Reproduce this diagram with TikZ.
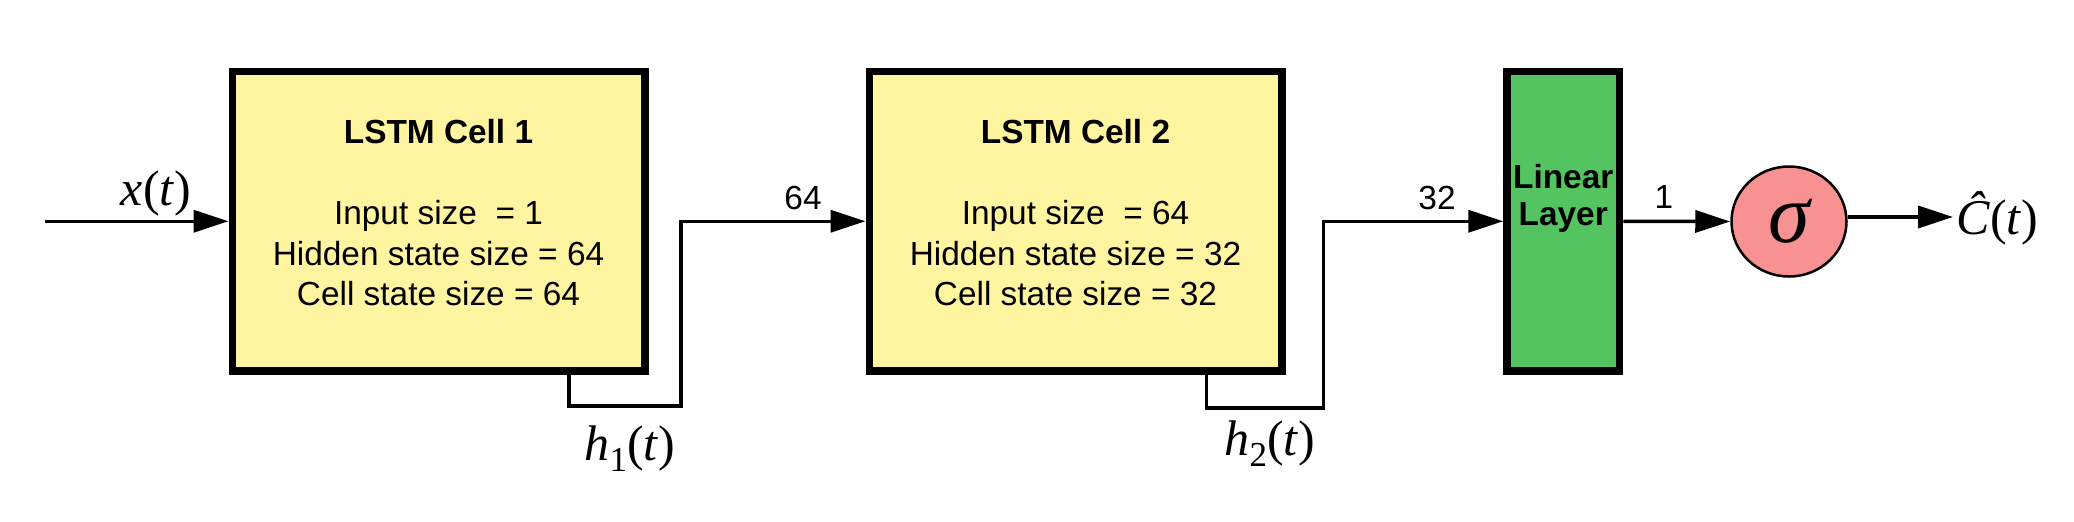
\documentclass[tikz,border=0pt]{standalone}
\usepackage{fontspec}
\setmainfont{Liberation Sans}
\newfontfamily\tms{Liberation Serif}
\usetikzlibrary{arrows.meta,shapes.geometric}
\definecolor{cellyellow}{RGB}{255,245,160}
\definecolor{lingreen}{RGB}{84,196,96}
\definecolor{sigpink}{RGB}{248,146,146}
\begin{document}
\begin{tikzpicture}[x=0.5pt,y=-0.5pt,
  cellbox/.style={draw=black, line width=3.75pt, fill=cellyellow, minimum width=206.25pt, minimum height=149.75pt, inner sep=0pt},
  linbox/.style={cellbox, fill=lingreen, minimum width=56.25pt},
  sigcirc/.style={ellipse, draw=black, line width=1.25pt, fill=sigpink, minimum width=57.5pt, minimum height=55pt, inner sep=0pt},
  conn/.style={line width=1.75pt},
  arr/.style={conn, -{Triangle[length=17.5pt,width=11pt]}},
  txt/.style={anchor=base, inner sep=0pt, font=\fontsize{16.7}{20}\selectfont},
  ttl/.style={txt, font=\fontsize{16.7}{20}\selectfont\bfseries},
  mth/.style={anchor=base, inner sep=0pt, font=\tms\fontsize{25}{28}\selectfont},
]
\useasboundingbox (0,0) rectangle (2074,521);

% boxes
\node[cellbox] (c1) at (438.5,221.25) {};
\node[cellbox] (c2) at (1075.5,221.25) {};
\node[linbox] (lin) at (1563.25,221.25) {};
\node[sigcirc, font=\tms\itshape\fontsize{42}{42}\selectfont] (sig) at (1789,221.5) {σ};

% cell texts
\node[ttl] (c1t) at (438.5,143) {LSTM Cell 1};
\node[txt] (c1a) at (438.5,224) {Input size\ \ = 1};
\node[txt] (c1b) at (438.5,265) {Hidden state size = 64};
\node[txt] (c1c) at (438.5,305) {Cell state size = 64};
\node[ttl] (c2t) at (1075.5,143) {LSTM Cell 2};
\node[txt] (c2a) at (1075.5,224) {Input size\ \ = 64};
\node[txt] (c2b) at (1075.5,265) {Hidden state size = 32};
\node[txt] (c2c) at (1075.5,305) {Cell state size = 32};
\node[ttl] (lt1) at (1563.25,188) {Linear};
\node[ttl] (lt2) at (1563.25,225) {Layer};

% connectors
\coordinate (in) at (45,221.25);
\draw[arr] (in) -- (c1.west);
\coordinate (h1a) at (569,406);
\coordinate (h1b) at (681,406);
\draw[arr] (c1.south -| h1a) -- (h1a) -- (h1b) -- (h1b |- c2.west) -- (c2.west);
\coordinate (h2a) at (1206.5,408);
\coordinate (h2b) at (1323.5,408);
\draw[arr] (c2.south -| h2a) -- (h2a) -- (h2b) -- (h2b |- lin.west) -- (lin.west);
\draw[arr] (lin.east) -- (sig.west);
\coordinate (out) at (1953,217);
\draw[arr] (sig.east |- out) -- (out);

% labels
\node[txt] (l64) at (803,209) {64};
\node[txt] (l32) at (1437,209) {32};
\node[txt] (l1) at (1664,208) {1};
\node[mth] (lx) at (156,205) {\itshape x\/\upshape(\itshape t\/\upshape)};
\node[mth] (lh1) at (630,460) {\itshape h\/\upshape\raisebox{-0.22em}{\fontsize{17.5}{17.5}\selectfont 1}(\itshape t\/\upshape)};
\node[mth] (lh2) at (1270,455) {\itshape h\/\upshape\raisebox{-0.22em}{\fontsize{17.5}{17.5}\selectfont 2}(\itshape t\/\upshape)};
\node[mth, anchor=base west] (lc) at (1956,234) {\itshape Ĉ\/\upshape(\itshape t\/\upshape)};
\end{tikzpicture}
\end{document}
